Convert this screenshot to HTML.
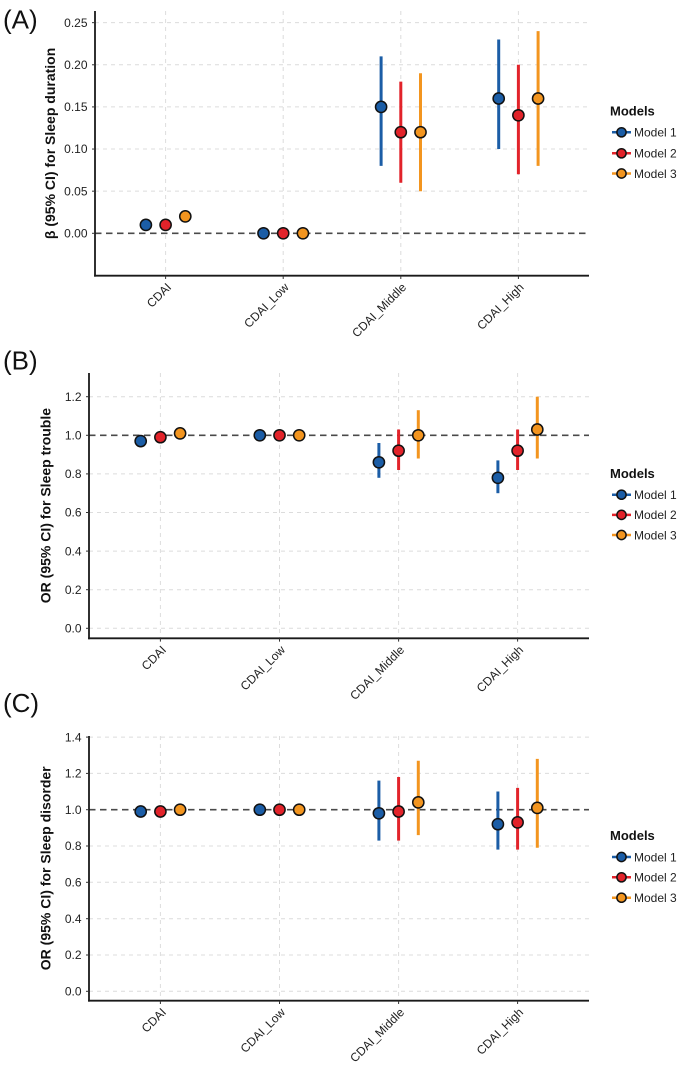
<!DOCTYPE html>
<html><head><meta charset="utf-8"><style>
html,body{margin:0;padding:0;background:#fff;}
svg{display:block;font-family:"Liberation Sans",Arial,sans-serif;}
.g{stroke:#dcdcdc;stroke-width:1;stroke-dasharray:4,4;fill:none}
.ref{stroke:#4a4a4a;stroke-width:1.6;stroke-dasharray:6.5,4.5;fill:none}
.ax{stroke:#1a1a1a;stroke-width:1.8;fill:none}
.tk{stroke:#333;stroke-width:1}
.tl{font-size:12px;fill:#222;text-anchor:end}
.xl{font-size:12px;fill:#222;text-anchor:end}
.tt{font-size:14px;font-weight:bold;fill:#111;text-anchor:middle}
.pl{font-size:26px;fill:#111}
.lt{font-size:13px;font-weight:bold;fill:#111}
.le{font-size:12px;fill:#222}
.b{stroke:#1B5DA6}.r{stroke:#E2232A}.o{stroke:#F3951F}
.eb{stroke-width:3}
.pb{fill:#1B5DA6}.pr{fill:#E2232A}.po{fill:#F3951F}
circle{stroke:#111;stroke-width:1.5}
</style></head><body>
<svg width="680" height="1066" viewBox="0 0 680 1066" xmlns="http://www.w3.org/2000/svg">

<!-- ============ PANEL A ============ -->
<text class="pl" x="3" y="28.5">(A)</text>
<g>
<line class="g" x1="95" x2="589" y1="22.65" y2="22.65"/>
<line class="g" x1="95" x2="589" y1="64.78" y2="64.78"/>
<line class="g" x1="95" x2="589" y1="106.91" y2="106.91"/>
<line class="g" x1="95" x2="589" y1="149.04" y2="149.04"/>
<line class="g" x1="95" x2="589" y1="191.17" y2="191.17"/>
<line class="g" x1="165.6" x2="165.6" y1="11" y2="275.7"/>
<line class="g" x1="283.2" x2="283.2" y1="11" y2="275.7"/>
<line class="g" x1="400.8" x2="400.8" y1="11" y2="275.7"/>
<line class="g" x1="518.4" x2="518.4" y1="11" y2="275.7"/>
<line class="ref" x1="95" x2="589" y1="233.3" y2="233.3"/>
</g>
<g>
<line class="eb b" x1="145.9" x2="145.9" y1="229.1" y2="220.7"/>
<line class="eb r" x1="165.6" x2="165.6" y1="229.9" y2="219.8"/>
<line class="eb o" x1="185.3" x2="185.3" y1="221.5" y2="211.4"/>
<line class="eb b" x1="381.1" x2="381.1" y1="165.9" y2="56.4"/>
<line class="eb r" x1="400.8" x2="400.8" y1="182.7" y2="81.6"/>
<line class="eb o" x1="420.5" x2="420.5" y1="191.2" y2="73.2"/>
<line class="eb b" x1="498.7" x2="498.7" y1="149.0" y2="39.5"/>
<line class="eb r" x1="518.4" x2="518.4" y1="174.3" y2="64.8"/>
<line class="eb o" x1="538.1" x2="538.1" y1="165.9" y2="31.1"/>
<circle class="pb" cx="145.9" cy="224.9" r="5.6"/>
<circle class="pr" cx="165.6" cy="224.9" r="5.6"/>
<circle class="po" cx="185.3" cy="216.4" r="5.6"/>
<circle class="pb" cx="263.5" cy="233.3" r="5.6"/>
<circle class="pr" cx="283.2" cy="233.3" r="5.6"/>
<circle class="po" cx="302.9" cy="233.3" r="5.6"/>
<circle class="pb" cx="381.1" cy="106.9" r="5.6"/>
<circle class="pr" cx="400.8" cy="132.2" r="5.6"/>
<circle class="po" cx="420.5" cy="132.2" r="5.6"/>
<circle class="pb" cx="498.7" cy="98.5" r="5.6"/>
<circle class="pr" cx="518.4" cy="115.3" r="5.6"/>
<circle class="po" cx="538.1" cy="98.5" r="5.6"/>
</g>
<g>
<line class="ax" x1="95" x2="95" y1="11" y2="276.6"/>
<line class="ax" x1="94.1" x2="589" y1="275.7" y2="275.7"/>
<line class="tk" x1="92" x2="95" y1="22.65" y2="22.65"/>
<line class="tk" x1="92" x2="95" y1="64.78" y2="64.78"/>
<line class="tk" x1="92" x2="95" y1="106.91" y2="106.91"/>
<line class="tk" x1="92" x2="95" y1="149.04" y2="149.04"/>
<line class="tk" x1="92" x2="95" y1="191.17" y2="191.17"/>
<line class="tk" x1="92" x2="95" y1="233.3" y2="233.3"/>
<line class="tk" x1="165.6" x2="165.6" y1="275.7" y2="279"/>
<line class="tk" x1="283.2" x2="283.2" y1="275.7" y2="279"/>
<line class="tk" x1="400.8" x2="400.8" y1="275.7" y2="279"/>
<line class="tk" x1="518.4" x2="518.4" y1="275.7" y2="279"/>
<text class="tl" x="87.5" y="26.9">0.25</text>
<text class="tl" x="87.5" y="69">0.20</text>
<text class="tl" x="87.5" y="111.1">0.15</text>
<text class="tl" x="87.5" y="153.2">0.10</text>
<text class="tl" x="87.5" y="195.4">0.05</text>
<text class="tl" x="87.5" y="237.5">0.00</text>
<text class="xl" transform="translate(172,288) rotate(-45)">CDAI</text>
<text class="xl" transform="translate(289.5,288) rotate(-45)">CDAI_Low</text>
<text class="xl" transform="translate(407,288) rotate(-45)">CDAI_Middle</text>
<text class="xl" transform="translate(524.5,288) rotate(-45)">CDAI_High</text>
<text class="tt" transform="translate(55,143.4) rotate(-90)">β (95% CI) for Sleep duration</text>
</g>
<g>
<text class="lt" x="610" y="115.5">Models</text>
<line class="b" stroke-width="2.5" x1="612" x2="631" y1="132.3" y2="132.3"/>
<circle class="pb" cx="621.5" cy="132.3" r="4.6"/>
<text class="le" x="634" y="136.6">Model 1</text>
<line class="r" stroke-width="2.5" x1="612" x2="631" y1="153.3" y2="153.3"/>
<circle class="pr" cx="621.5" cy="153.3" r="4.6"/>
<text class="le" x="634" y="157.6">Model 2</text>
<line class="o" stroke-width="2.5" x1="612" x2="631" y1="173.5" y2="173.5"/>
<circle class="po" cx="621.5" cy="173.5" r="4.6"/>
<text class="le" x="634" y="177.8">Model 3</text>
</g>

<!-- ============ PANEL B ============ -->
<text class="pl" x="3" y="369.5">(B)</text>
<g>
<line class="g" x1="89" x2="589" y1="396.7" y2="396.7"/>
<line class="g" x1="89" x2="589" y1="473.9" y2="473.9"/>
<line class="g" x1="89" x2="589" y1="512.5" y2="512.5"/>
<line class="g" x1="89" x2="589" y1="551.1" y2="551.1"/>
<line class="g" x1="89" x2="589" y1="589.7" y2="589.7"/>
<line class="g" x1="89" x2="589" y1="628.3" y2="628.3"/>
<line class="g" x1="160.4" x2="160.4" y1="373" y2="638.3"/>
<line class="g" x1="279.5" x2="279.5" y1="373" y2="638.3"/>
<line class="g" x1="398.6" x2="398.6" y1="373" y2="638.3"/>
<line class="g" x1="517.6" x2="517.6" y1="373" y2="638.3"/>
<line class="ref" x1="89" x2="589" y1="435.3" y2="435.3"/>
</g>
<g>
<line class="eb b" x1="140.7" x2="140.7" y1="444.9" y2="437.2"/>
<line class="eb r" x1="160.4" x2="160.4" y1="441.1" y2="433.4"/>
<line class="eb o" x1="180.1" x2="180.1" y1="437.2" y2="429.5"/>
<line class="eb b" x1="378.9" x2="378.9" y1="477.8" y2="443.0"/>
<line class="eb r" x1="398.6" x2="398.6" y1="470.0" y2="429.5"/>
<line class="eb o" x1="418.3" x2="418.3" y1="458.5" y2="410.2"/>
<line class="eb b" x1="497.9" x2="497.9" y1="493.2" y2="460.4"/>
<line class="eb r" x1="517.6" x2="517.6" y1="470.0" y2="429.5"/>
<line class="eb o" x1="537.3" x2="537.3" y1="458.5" y2="396.7"/>
<circle class="pb" cx="140.7" cy="441.1" r="5.6"/>
<circle class="pr" cx="160.4" cy="437.2" r="5.6"/>
<circle class="po" cx="180.1" cy="433.4" r="5.6"/>
<circle class="pb" cx="259.8" cy="435.3" r="5.6"/>
<circle class="pr" cx="279.5" cy="435.3" r="5.6"/>
<circle class="po" cx="299.2" cy="435.3" r="5.6"/>
<circle class="pb" cx="378.9" cy="462.3" r="5.6"/>
<circle class="pr" cx="398.6" cy="450.7" r="5.6"/>
<circle class="po" cx="418.3" cy="435.3" r="5.6"/>
<circle class="pb" cx="497.9" cy="477.8" r="5.6"/>
<circle class="pr" cx="517.6" cy="450.7" r="5.6"/>
<circle class="po" cx="537.3" cy="429.5" r="5.6"/>
</g>
<g>
<line class="ax" x1="89" x2="89" y1="373" y2="639.2"/>
<line class="ax" x1="88.1" x2="589" y1="638.3" y2="638.3"/>
<line class="tk" x1="86" x2="89" y1="396.7" y2="396.7"/>
<line class="tk" x1="86" x2="89" y1="435.3" y2="435.3"/>
<line class="tk" x1="86" x2="89" y1="473.9" y2="473.9"/>
<line class="tk" x1="86" x2="89" y1="512.5" y2="512.5"/>
<line class="tk" x1="86" x2="89" y1="551.1" y2="551.1"/>
<line class="tk" x1="86" x2="89" y1="589.7" y2="589.7"/>
<line class="tk" x1="86" x2="89" y1="628.3" y2="628.3"/>
<line class="tk" x1="160.4" x2="160.4" y1="638.3" y2="641.6"/>
<line class="tk" x1="279.5" x2="279.5" y1="638.3" y2="641.6"/>
<line class="tk" x1="398.6" x2="398.6" y1="638.3" y2="641.6"/>
<line class="tk" x1="517.6" x2="517.6" y1="638.3" y2="641.6"/>
<text class="tl" x="81.5" y="400.9">1.2</text>
<text class="tl" x="81.5" y="439.5">1.0</text>
<text class="tl" x="81.5" y="478.1">0.8</text>
<text class="tl" x="81.5" y="516.7">0.6</text>
<text class="tl" x="81.5" y="555.3">0.4</text>
<text class="tl" x="81.5" y="593.9">0.2</text>
<text class="tl" x="81.5" y="632.5">0.0</text>
<text class="xl" transform="translate(166.8,650.6) rotate(-45)">CDAI</text>
<text class="xl" transform="translate(285.9,650.6) rotate(-45)">CDAI_Low</text>
<text class="xl" transform="translate(405,650.6) rotate(-45)">CDAI_Middle</text>
<text class="xl" transform="translate(524,650.6) rotate(-45)">CDAI_High</text>
<text class="tt" transform="translate(50.5,505.6) rotate(-90)">OR (95% CI) for Sleep trouble</text>
</g>
<g>
<text class="lt" x="610" y="477.8">Models</text>
<line class="b" stroke-width="2.5" x1="612" x2="631" y1="494.7" y2="494.7"/>
<circle class="pb" cx="621.5" cy="494.7" r="4.6"/>
<text class="le" x="634" y="499">Model 1</text>
<line class="r" stroke-width="2.5" x1="612" x2="631" y1="514.9" y2="514.9"/>
<circle class="pr" cx="621.5" cy="514.9" r="4.6"/>
<text class="le" x="634" y="519.2">Model 2</text>
<line class="o" stroke-width="2.5" x1="612" x2="631" y1="535" y2="535"/>
<circle class="po" cx="621.5" cy="535" r="4.6"/>
<text class="le" x="634" y="539.3">Model 3</text>
</g>

<!-- ============ PANEL C ============ -->
<text class="pl" x="3" y="712">(C)</text>
<g>
<line class="g" x1="89" x2="589" y1="737.1" y2="737.1"/>
<line class="g" x1="89" x2="589" y1="773.4" y2="773.4"/>
<line class="g" x1="89" x2="589" y1="846.0" y2="846.0"/>
<line class="g" x1="89" x2="589" y1="882.3" y2="882.3"/>
<line class="g" x1="89" x2="589" y1="918.7" y2="918.7"/>
<line class="g" x1="89" x2="589" y1="955.0" y2="955.0"/>
<line class="g" x1="89" x2="589" y1="991.3" y2="991.3"/>
<line class="g" x1="160.4" x2="160.4" y1="736" y2="1000.7"/>
<line class="g" x1="279.5" x2="279.5" y1="736" y2="1000.7"/>
<line class="g" x1="398.6" x2="398.6" y1="736" y2="1000.7"/>
<line class="g" x1="517.6" x2="517.6" y1="736" y2="1000.7"/>
<line class="ref" x1="89" x2="589" y1="809.7" y2="809.7"/>
</g>
<g>
<line class="eb b" x1="140.7" x2="140.7" y1="815.2" y2="807.9"/>
<line class="eb r" x1="160.4" x2="160.4" y1="815.2" y2="807.9"/>
<line class="eb o" x1="180.1" x2="180.1" y1="813.3" y2="806.1"/>
<line class="eb b" x1="378.9" x2="378.9" y1="840.6" y2="780.6"/>
<line class="eb r" x1="398.6" x2="398.6" y1="840.6" y2="777.0"/>
<line class="eb o" x1="418.3" x2="418.3" y1="835.1" y2="760.7"/>
<line class="eb b" x1="497.9" x2="497.9" y1="849.6" y2="791.5"/>
<line class="eb r" x1="517.6" x2="517.6" y1="849.6" y2="787.9"/>
<line class="eb o" x1="537.3" x2="537.3" y1="847.8" y2="758.9"/>
<circle class="pb" cx="140.7" cy="811.5" r="5.6"/>
<circle class="pr" cx="160.4" cy="811.5" r="5.6"/>
<circle class="po" cx="180.1" cy="809.7" r="5.6"/>
<circle class="pb" cx="259.8" cy="809.7" r="5.6"/>
<circle class="pr" cx="279.5" cy="809.7" r="5.6"/>
<circle class="po" cx="299.2" cy="809.7" r="5.6"/>
<circle class="pb" cx="378.9" cy="813.3" r="5.6"/>
<circle class="pr" cx="398.6" cy="811.5" r="5.6"/>
<circle class="po" cx="418.3" cy="802.4" r="5.6"/>
<circle class="pb" cx="497.9" cy="824.2" r="5.6"/>
<circle class="pr" cx="517.6" cy="822.4" r="5.6"/>
<circle class="po" cx="537.3" cy="807.9" r="5.6"/>
</g>
<g>
<line class="ax" x1="89" x2="89" y1="736" y2="1001.6"/>
<line class="ax" x1="88.1" x2="589" y1="1000.7" y2="1000.7"/>
<line class="tk" x1="86" x2="89" y1="737.1" y2="737.1"/>
<line class="tk" x1="86" x2="89" y1="773.4" y2="773.4"/>
<line class="tk" x1="86" x2="89" y1="809.7" y2="809.7"/>
<line class="tk" x1="86" x2="89" y1="846.0" y2="846.0"/>
<line class="tk" x1="86" x2="89" y1="882.3" y2="882.3"/>
<line class="tk" x1="86" x2="89" y1="918.7" y2="918.7"/>
<line class="tk" x1="86" x2="89" y1="955.0" y2="955.0"/>
<line class="tk" x1="86" x2="89" y1="991.3" y2="991.3"/>
<line class="tk" x1="160.4" x2="160.4" y1="1000.7" y2="1004"/>
<line class="tk" x1="279.5" x2="279.5" y1="1000.7" y2="1004"/>
<line class="tk" x1="398.6" x2="398.6" y1="1000.7" y2="1004"/>
<line class="tk" x1="517.6" x2="517.6" y1="1000.7" y2="1004"/>
<text class="tl" x="81.5" y="741.3">1.4</text>
<text class="tl" x="81.5" y="777.6">1.2</text>
<text class="tl" x="81.5" y="813.9">1.0</text>
<text class="tl" x="81.5" y="850.2">0.8</text>
<text class="tl" x="81.5" y="886.5">0.6</text>
<text class="tl" x="81.5" y="922.9">0.4</text>
<text class="tl" x="81.5" y="959.2">0.2</text>
<text class="tl" x="81.5" y="995.5">0.0</text>
<text class="xl" transform="translate(166.8,1013) rotate(-45)">CDAI</text>
<text class="xl" transform="translate(285.9,1013) rotate(-45)">CDAI_Low</text>
<text class="xl" transform="translate(405,1013) rotate(-45)">CDAI_Middle</text>
<text class="xl" transform="translate(524,1013) rotate(-45)">CDAI_High</text>
<text class="tt" transform="translate(50.5,868.3) rotate(-90)">OR (95% CI) for Sleep disorder</text>
</g>
<g>
<text class="lt" x="610" y="840.2">Models</text>
<line class="b" stroke-width="2.5" x1="612" x2="631" y1="857" y2="857"/>
<circle class="pb" cx="621.5" cy="857" r="4.6"/>
<text class="le" x="634" y="861.3">Model 1</text>
<line class="r" stroke-width="2.5" x1="612" x2="631" y1="877.3" y2="877.3"/>
<circle class="pr" cx="621.5" cy="877.3" r="4.6"/>
<text class="le" x="634" y="881.6">Model 2</text>
<line class="o" stroke-width="2.5" x1="612" x2="631" y1="897.7" y2="897.7"/>
<circle class="po" cx="621.5" cy="897.7" r="4.6"/>
<text class="le" x="634" y="902">Model 3</text>
</g>
</svg>
</body></html>
